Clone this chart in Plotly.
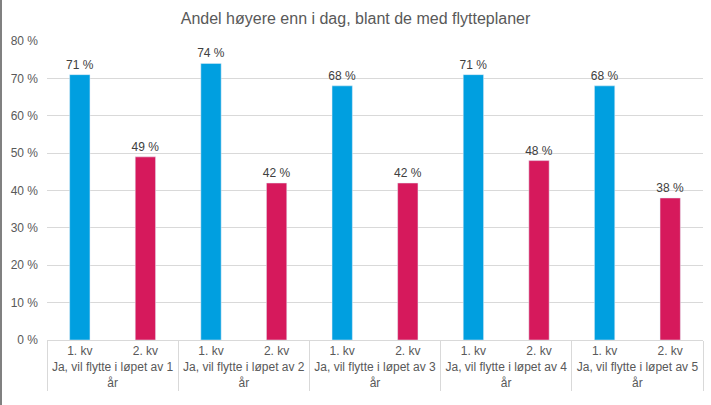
import plotly.graph_objects as go

groups = ["Ja, vil flytte i løpet av 1<br>år", "Ja, vil flytte i løpet av 2<br>år",
          "Ja, vil flytte i løpet av 3<br>år", "Ja, vil flytte i løpet av 4<br>år",
          "Ja, vil flytte i løpet av 5<br>år"]
q1_label = "1. kv"
q2_label = "2. kv"
q1_values = [71, 74, 68, 71, 68]
q2_values = [49, 42, 42, 48, 38]

fig = go.Figure()
fig.add_trace(go.Bar(
    x=[groups, [q1_label] * len(groups)], y=q1_values,
    marker_color="#009FE0", width=0.31, constraintext="none",
    text=[f"{v} %" for v in q1_values], textposition="outside",
    textfont=dict(size=12, color="#404040"), cliponaxis=False, name=q1_label))
fig.add_trace(go.Bar(
    x=[groups, [q2_label] * len(groups)], y=q2_values,
    marker_color="#D6195C", width=0.31, constraintext="none",
    text=[f"{v} %" for v in q2_values], textposition="outside",
    textfont=dict(size=12, color="#404040"), cliponaxis=False, name=q2_label))

fig.update_layout(
    width=711, height=405,
    margin=dict(l=47, r=8, t=41, b=65),
    paper_bgcolor="white", plot_bgcolor="white",
    font=dict(family="Liberation Sans, Arial, sans-serif", size=12, color="#595959"),
    title=dict(text="Andel høyere enn i dag, blant de med flytteplaner",
               x=0.5, xanchor="center", y=0.955, yanchor="middle",
               font=dict(size=16, color="#595959")),
    barmode="overlay", showlegend=False,
    xaxis=dict(type="multicategory", showgrid=False, showline=True, automargin=False,
               linecolor="#D9D9D9", showdividers=True, dividercolor="#D9D9D9",
               dividerwidth=1, tickfont=dict(size=12, color="#595959")),
    yaxis=dict(range=[0, 80], dtick=10, ticksuffix=" %", showgrid=True, automargin=False,
               gridcolor="#D9D9D9", zeroline=False, showline=False, ticklabelstandoff=8,
               tickfont=dict(size=12, color="#595959")),
    shapes=[dict(type="line", xref="paper", yref="paper",
                 x0=-46/656, x1=-46/656, y0=-65/299, y1=1 + 41/299,
                 line=dict(color="#808080", width=2))],
)

fig.write_html("out.html", config={"displayModeBar": False},
               post_script="document.body.style.margin='0';document.body.style.overflow='hidden';")
